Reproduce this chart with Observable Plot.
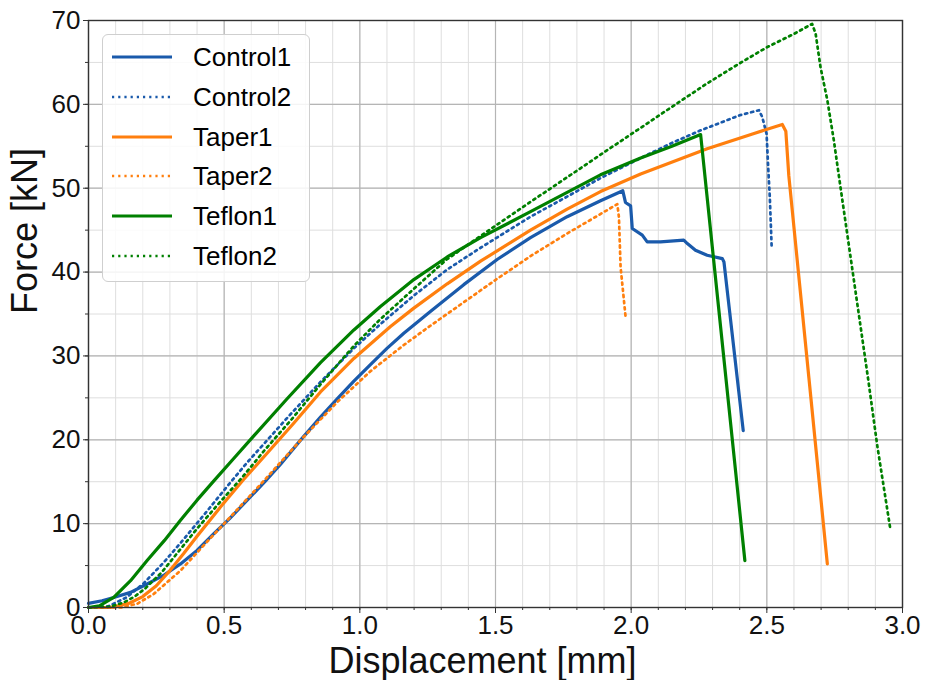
<!DOCTYPE html>
<html><head><meta charset="utf-8">
<script src="https://cdn.jsdelivr.net/npm/d3@7"></script>
<script src="https://cdn.jsdelivr.net/npm/@observablehq/plot@0.6"></script>
<style>
body{margin:0;background:#fff;font-family:"Liberation Sans",Arial,sans-serif;}
#wrap{position:relative;width:925px;height:680px;}
#legend{position:absolute;left:102px;top:34px;width:206px;height:246px;border:1px solid #cfcfcf;border-radius:6px;background:rgba(255,255,255,0.85);}
.item{position:absolute;left:0;height:40px;display:flex;align-items:center;font-size:26px;color:#000;}
.item svg{position:absolute;left:9px;top:15px;}
.item span{position:absolute;left:90px;white-space:nowrap;line-height:40px;top:0;}
</style></head>
<body><div id="wrap"><div id="chart"></div><div id="legend"></div></div>
<script>
// ---- data (x = displacement [mm], y = force [kN]) ----
const control1 = [[0,0.5],[0.05,0.8],[0.093,1.2],[0.155,1.8],[0.216,2.8],[0.28,3.9],[0.339,5.2],[0.4,6.8],[0.462,8.8],[0.52,10.6],[0.585,12.8],[0.65,15.0],[0.708,17.1],[0.78,19.9],[0.855,22.7],[0.92,25.0],[0.978,27.0],[1.04,29.0],[1.10,30.9],[1.162,32.7],[1.26,35.3],[1.383,38.5],[1.506,41.5],[1.629,44.1],[1.764,46.6],[1.887,48.5],[1.969,49.7],[1.979,48.3],[1.998,47.9],[2.004,45.2],[2.041,44.4],[2.059,43.6],[2.108,43.6],[2.194,43.8],[2.207,43.4],[2.237,42.6],[2.28,42.0],[2.336,41.6],[2.342,41.2],[2.413,21.1]];
const control2 = [[0,0],[0.07,0.1],[0.14,1.2],[0.204,2.9],[0.278,5.4],[0.35,8.1],[0.437,11.5],[0.51,14.4],[0.585,17.3],[0.66,20.0],[0.732,22.6],[0.855,26.9],[0.978,30.9],[1.076,33.8],[1.199,37.2],[1.322,40.3],[1.445,42.9],[1.629,46.6],[1.764,49.0],[1.887,51.2],[2.035,53.6],[2.15,55.4],[2.256,56.9],[2.40,58.7],[2.471,59.3],[2.483,58.5],[2.499,56.5],[2.505,52.5],[2.511,48.9],[2.518,42.8]];
const taper1 = [[0,0],[0.08,0],[0.15,0.5],[0.2,1.3],[0.25,2.6],[0.3,4.4],[0.35,6.4],[0.4,8.5],[0.487,12.0],[0.57,15.2],[0.65,18.1],[0.757,22.0],[0.855,25.7],[0.978,29.7],[1.113,33.5],[1.199,35.7],[1.322,38.6],[1.445,41.3],[1.629,45.0],[1.764,47.5],[1.887,49.6],[2.035,51.7],[2.28,54.7],[2.45,56.5],[2.557,57.6],[2.57,56.8],[2.581,51.5],[2.655,27.4],[2.723,5.2]];
const taper2 = [[0,0],[0.12,0],[0.18,0.45],[0.24,1.6],[0.339,4.4],[0.43,7.6],[0.523,10.8],[0.646,15.1],[0.78,19.9],[0.917,24.5],[1.04,28.2],[1.162,31.3],[1.26,33.6],[1.383,36.4],[1.506,39.2],[1.629,41.9],[1.764,44.6],[1.87,46.6],[1.949,48.1],[1.955,46.5],[1.961,40.6],[1.979,34.8]];
const teflon1 = [[0,0],[0.04,0.2],[0.093,1.2],[0.155,3.2],[0.216,5.6],[0.28,8.0],[0.339,10.4],[0.4,12.8],[0.462,15.1],[0.536,17.8],[0.61,20.5],[0.732,24.9],[0.855,29.2],[0.978,33.1],[1.076,35.9],[1.199,39.1],[1.322,41.8],[1.445,44.1],[1.629,47.2],[1.764,49.5],[1.887,51.6],[2.035,53.6],[2.15,55.0],[2.256,56.4],[2.419,5.6]];
const teflon2 = [[0,0],[0.08,0.1],[0.13,0.6],[0.17,1.3],[0.21,2.3],[0.27,4.2],[0.33,6.6],[0.40,9.4],[0.48,12.4],[0.566,15.5],[0.65,18.8],[0.745,22.3],[0.855,26.6],[0.978,31.2],[1.076,34.4],[1.199,38.0],[1.32,41.5],[1.494,45.4],[1.635,48.5],[1.764,51.3],[1.887,54.0],[2.035,57.2],[2.15,59.7],[2.28,62.5],[2.40,64.9],[2.50,66.8],[2.60,68.4],[2.667,69.6],[2.68,68.4],[2.698,64.4],[2.723,60.5],[2.747,55.7],[2.772,50.0],[2.874,27.1],[2.907,19.3],[2.954,9.6]];

const seriesNames = ["Control1","Control2","Taper1","Taper2","Teflon1","Teflon2"];
const seriesData = [control1, control2, taper1, taper2, teflon1, teflon2];
const xMajorTicks = [0,0.5,1.0,1.5,2.0,2.5,3.0];
const xMinorTicks = d3.range(0,31).map(i=>i/10);
const yMajorTicks = [0,10,20,30,40,50,60,70];
const yMinorTicks = d3.range(0,71,5);

// ---- styles ----
const colors = ["#1a5aab","#1a5aab","#ff7f0e","#ff7f0e","#008000","#008000"];
const dotted = [false,true,false,true,false,true];
const solidW = 3.2, dotW = 2.7, dotDash = "2.2,4";

const lineMarks = seriesData.map((d,i)=>Plot.line(d,{x:p=>p[0],y:p=>p[1],stroke:colors[i],
  strokeWidth: dotted[i]?dotW:solidW, strokeDasharray: dotted[i]?dotDash:null, strokeLinejoin:"round"}));

const chart = Plot.plot({
  width:925, height:680,
  marginLeft:88, marginRight:23, marginTop:20, marginBottom:73,
  style:{fontFamily:'"Liberation Sans",Arial,sans-serif', background:"#fff", overflow:"visible"},
  x:{domain:[0,3]},
  y:{domain:[0,70]},
  marks:[
    Plot.gridX({ticks:xMinorTicks, stroke:"#dedede", strokeOpacity:1, strokeWidth:1}),
    Plot.gridY({ticks:yMinorTicks, stroke:"#dedede", strokeOpacity:1, strokeWidth:1}),
    Plot.gridX({ticks:xMajorTicks, stroke:"#b5b5b5", strokeOpacity:1, strokeWidth:1.2}),
    Plot.gridY({ticks:yMajorTicks, stroke:"#b5b5b5", strokeOpacity:1, strokeWidth:1.2}),
    ...lineMarks,
    Plot.frame({stroke:"#333", strokeWidth:1.4}),
    Plot.axisX({ticks:xMinorTicks, tickSize:3, tickFormat:()=>"", label:null, stroke:"#333"}),
    Plot.axisY({ticks:yMinorTicks, tickSize:3, tickFormat:()=>"", label:null, stroke:"#333"}),
    Plot.axisX({ticks:xMajorTicks, tickSize:6, tickPadding:2, tickFormat:d=>d.toFixed(1), fontSize:26, label:null, stroke:"#333", fill:"#111"}),
    Plot.axisY({ticks:yMajorTicks, tickSize:5, tickPadding:3, tickFormat:d=>String(d), fontSize:26, label:null, stroke:"#333", fill:"#111"}),
    Plot.text(["Displacement [mm]"],{text:d=>d, frameAnchor:"bottom", dy:65, dx:-13, fontSize:36, fill:"#111"}),
    Plot.text(["Force [kN]"],{text:d=>d, frameAnchor:"left", rotate:-90, dx:-63, fontSize:36, fill:"#111"})
  ]
});
document.getElementById("chart").appendChild(chart);

// ---- legend ----
const leg = document.getElementById("legend");
seriesNames.forEach((name,i)=>{
  const it = document.createElement("div");
  it.className="item";
  it.style.top = (2 + i*39.8) + "px";
  it.style.width="100%";
  it.innerHTML = `<svg width="60" height="10"><line x1="0" x2="60" y1="5" y2="5" stroke="${colors[i]}" stroke-width="${dotted[i]?dotW:solidW}" ${dotted[i]?`stroke-dasharray="${dotDash}"`:""}/></svg><span>${name}</span>`;
  leg.appendChild(it);
});
</script></body></html>
